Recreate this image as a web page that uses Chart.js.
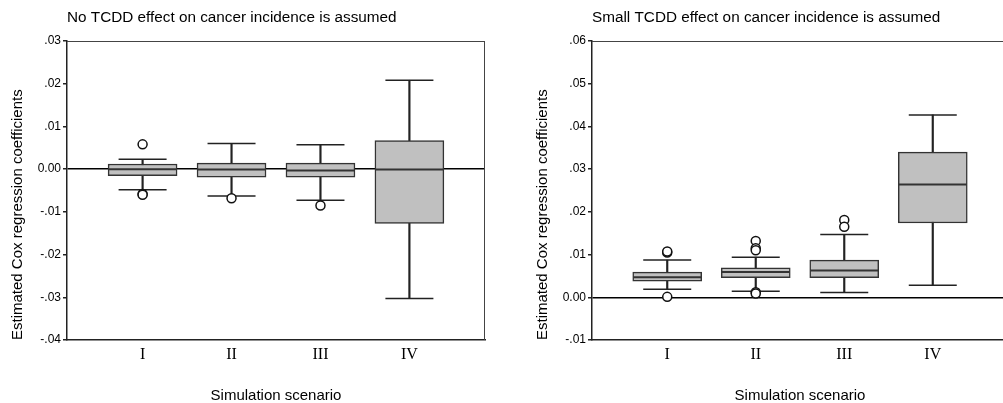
<!DOCTYPE html>
<html>
<head>
<meta charset="utf-8">
<script src="https://cdn.jsdelivr.net/npm/chart.js@4.4.1/dist/chart.umd.min.js"></script>
<style>
  html, body { margin: 0; padding: 0; background: #fff; overflow: hidden; }
  body { width: 1003px; height: 403px; position: relative; }
  canvas { position: absolute; top: 0; }
  #noEffect { left: 0; }
  #smallEffect { left: 525px; }
</style>
</head>
<body>
<canvas id="noEffect" width="500" height="403"></canvas>
<canvas id="smallEffect" width="488" height="403"></canvas>
<script>
const categories = ["I", "II", "III", "IV"];

// left panel: no TCDD effect
const noMin = [-0.0048, -0.0063, -0.0073, -0.0303];
const noQ1 = [-0.0015, -0.0019, -0.0019, -0.0127];
const noMedian = [0.0000, -0.0001, -0.0003, -0.0001];
const noQ3 = [0.0012, 0.0014, 0.0014, 0.0067];
const noMax = [0.0023, 0.0060, 0.0057, 0.0208];
const noOutliers = [[0.0058, -0.0058, -0.0060], [-0.0068], [-0.0085], []];
const noTicks = [-0.04, -0.03, -0.02, -0.01, 0, 0.01, 0.02, 0.03];
const noTickLabels = ["-.04", "-.03", "-.02", "-.01", "0.00", ".01", ".02", ".03"];

// right panel: small TCDD effect
const smMin = [0.0019, 0.0014, 0.0011, 0.0028];
const smQ1 = [0.0038, 0.0046, 0.0046, 0.0174];
const smMedian = [0.0047, 0.0059, 0.0063, 0.0264];
const smQ3 = [0.0059, 0.0069, 0.0087, 0.0340];
const smMax = [0.0087, 0.0094, 0.0147, 0.0427];
const smOutliers = [[0.0105, 0.0107, 0.0001], [0.0132, 0.0115, 0.0110, 0.0012, 0.0009], [0.0181, 0.0165], []];
const smTicks = [-0.01, 0, 0.01, 0.02, 0.03, 0.04, 0.05, 0.06];
const smTickLabels = ["-.01", "0.00", ".01", ".02", ".03", ".04", ".05", ".06"];

const sans = '"Liberation Sans", Arial, sans-serif';
const serif = '"Liberation Serif", "Times New Roman", serif';

// top and right frame lines plus the panel heading
const frameAndTitle = {
  id: "frameAndTitle",
  afterDraw(chart, args, opts) {
    const { ctx, chartArea: a } = chart;
    ctx.save();
    ctx.strokeStyle = "#444";
    ctx.lineWidth = 1;
    ctx.beginPath();
    ctx.moveTo(a.left, a.top + 0.5);
    ctx.lineTo(a.right, a.top + 0.5);
    ctx.moveTo(a.right - 0.5, a.top);
    ctx.lineTo(a.right - 0.5, a.bottom);
    ctx.stroke();
    ctx.fillStyle = "#000";
    ctx.font = "15.3px " + sans;
    ctx.textAlign = "left";
    ctx.textBaseline = "middle";
    ctx.fillText(opts.text, a.left, 17.5);
    ctx.restore();
  }
};

function makeBoxChart(id, title, lo, q1, med, q3, hi, outliers, ticks, tickLabels, padRight) {
  const at = (arr) => arr.map((v, i) => ({ x: i + 1, y: v }));
  const ends = at(lo).concat(at(hi));
  const outlierPts = outliers.flatMap((list, i) => list.map(v => ({ x: i + 1, y: v })));

  return new Chart(document.getElementById(id), {
    type: "bar",
    data: {
      datasets: [
        {
          label: "whisker",
          data: lo.map((v, i) => ({ x: i + 1, y: [v, hi[i]] })),
          backgroundColor: "#222",
          barThickness: 1.5,
          grouped: false,
          order: 5
        },
        {
          label: "box",
          data: q1.map((v, i) => ({ x: i + 1, y: [v, q3[i]] })),
          backgroundColor: "#c0c0c0",
          borderColor: "#333",
          borderWidth: 1.5,
          borderSkipped: false,
          barThickness: 69,
          grouped: false,
          order: 4
        },
        {
          type: "scatter",
          label: "median",
          data: at(med),
          pointStyle: "line",
          pointRadius: 34,
          borderColor: "#333",
          borderWidth: 2,
          order: 3
        },
        {
          type: "scatter",
          label: "caps",
          data: ends,
          pointStyle: "line",
          pointRadius: 24,
          borderColor: "#222",
          borderWidth: 1.5,
          order: 2
        },
        {
          type: "scatter",
          label: "outliers",
          data: outlierPts,
          pointStyle: "circle",
          pointRadius: 4.5,
          backgroundColor: "#fff",
          borderColor: "#111",
          borderWidth: 1.5,
          order: 1
        }
      ]
    },
    options: {
      responsive: false,
      animation: false,
      events: [],
      layout: { autoPadding: false, padding: { top: 41, right: padRight, left: 0, bottom: 0 } },
      plugins: {
        legend: { display: false },
        tooltip: { enabled: false },
        frameAndTitle: { text: title }
      },
      scales: {
        x: {
          type: "linear",
          offset: false,
          min: 0.15,
          max: 4.85,
          afterBuildTicks: (scale) => { scale.ticks = categories.map((c, i) => ({ value: i + 1 })); },
          afterFit: (scale) => {
            scale.height = 63;
            scale.paddingLeft = 0;
            scale.paddingRight = 0;
          },
          ticks: {
            callback: (v) => categories[v - 1],
            font: { family: serif, size: 16 },
            color: "#000",
            padding: 5,
            maxRotation: 0
          },
          grid: { display: false, drawTicks: false, offset: false },
          border: { display: true, color: "#222", width: 1.5 },
          title: {
            display: true,
            text: "Simulation scenario",
            font: { family: sans, size: 15, lineHeight: 1 },
            color: "#000",
            padding: { top: 0, bottom: 0 }
          }
        },
        y: {
          min: ticks[0],
          max: ticks[ticks.length - 1],
          afterBuildTicks: (scale) => { scale.ticks = ticks.map(v => ({ value: v })); },
          afterFit: (scale) => {
            scale.width = 67;
            scale.paddingTop = 0;
            scale.paddingBottom = 0;
          },
          ticks: {
            callback: (v, i) => tickLabels[i],
            font: { family: sans, size: 12 },
            color: "#000",
            padding: 2
          },
          grid: {
            color: (ctx) => (ctx.tick && ctx.tick.value === 0 ? "#000" : "rgba(0,0,0,0)"),
            tickColor: "#222",
            tickLength: 4,
            lineWidth: 1.5
          },
          border: { display: true, color: "#222", width: 1.5 },
          title: {
            display: true,
            text: "Estimated Cox regression coefficients",
            align: "start",
            font: { family: sans, size: 15, lineHeight: 1 },
            color: "#000",
            padding: { top: 10.5, bottom: 0 }
          }
        }
      }
    },
    plugins: [frameAndTitle]
  });
}

makeBoxChart("noEffect", "No TCDD effect on cancer incidence is assumed",
  noMin, noQ1, noMedian, noQ3, noMax, noOutliers, noTicks, noTickLabels, 15);
makeBoxChart("smallEffect", "Small TCDD effect on cancer incidence is assumed",
  smMin, smQ1, smMedian, smQ3, smMax, smOutliers, smTicks, smTickLabels, 5);
</script>
</body>
</html>
